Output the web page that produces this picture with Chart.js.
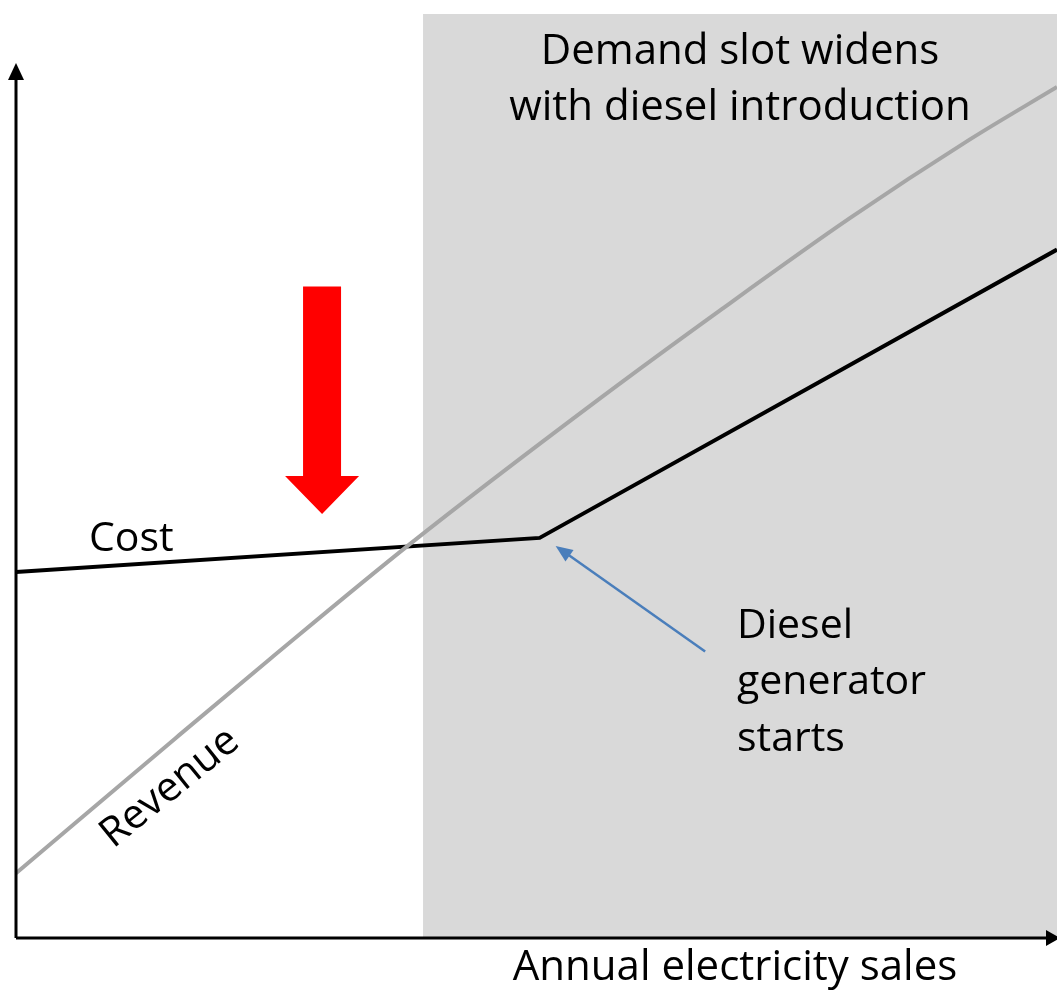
<!DOCTYPE html>
<html>
<head>
<meta charset="utf-8">
<script src="https://cdn.jsdelivr.net/npm/chart.js@4.4.1/dist/chart.umd.min.js"></script>
<style>
  html, body { margin: 0; padding: 0; background: #fff; }
  #wrap { width: 1057px; height: 994px; }
</style>
</head>
<body>
<div id="wrap"><canvas id="chart" width="1057" height="994"></canvas></div>
<script>
// data, in abstract units (x: sales 0..100, y: money 0..100)
const costX = [0, 50.3, 100];
const costY = [39.6, 43.3, 74.5];

const revenueX = [0, 15.3, 24.4, 37.8, 56.1, 67.6, 80.1, 91.6, 100];
const revenueY = [7.0, 21.6, 30.2, 42.6, 58.4, 67.9, 77.9, 86.4, 92.1];

// shaded demand slot, and where the diesel starts
const slotRange = [39.1, 100];
const dieselStart = [costX[1], costY[1]];

const FONT = '"Open Sans", "Noto Sans", sans-serif';

const toPoints = (xs, ys) => xs.map((x, i) => ({ x: x, y: ys[i] }));

const drawStuff = {
  id: 'drawStuff',
  beforeDatasetsDraw(chart) {
    const { ctx, scales: { x, y } } = chart;
    ctx.save();
    // grey demand slot
    ctx.fillStyle = '#d9d9d9';
    const x0 = x.getPixelForValue(slotRange[0]);
    const x1 = x.getPixelForValue(slotRange[1]);
    ctx.fillRect(x0, y.getPixelForValue(100), x1 - x0 + 2, y.getPixelForValue(0) - y.getPixelForValue(100));
    ctx.restore();
  },
  afterDatasetsDraw(chart) {
    const { ctx, scales: { x, y } } = chart;
    const ox = x.getPixelForValue(0);
    const oy = y.getPixelForValue(0);
    ctx.save();

    // axes with arrow heads
    ctx.strokeStyle = '#000';
    ctx.fillStyle = '#000';
    ctx.lineWidth = 3;
    ctx.beginPath();
    ctx.moveTo(ox, oy);
    ctx.lineTo(ox, 78);
    ctx.moveTo(ox, oy);
    ctx.lineTo(1046, oy);
    ctx.stroke();
    ctx.beginPath();
    ctx.moveTo(ox, 63); ctx.lineTo(ox - 8, 80); ctx.lineTo(ox + 8, 80); ctx.closePath();
    ctx.fill();
    ctx.beginPath();
    ctx.moveTo(1060, oy); ctx.lineTo(1046, oy - 8); ctx.lineTo(1046, oy + 8); ctx.closePath();
    ctx.fill();

    // red down arrow
    const rx = x.getPixelForValue(29.4);
    const rTop = y.getPixelForValue(70.5);
    const rTip = y.getPixelForValue(45.9);
    ctx.fillStyle = '#ff0000';
    ctx.beginPath();
    ctx.moveTo(rx - 19, rTop);
    ctx.lineTo(rx + 19, rTop);
    ctx.lineTo(rx + 19, rTip - 38);
    ctx.lineTo(rx + 37, rTip - 38);
    ctx.lineTo(rx, rTip);
    ctx.lineTo(rx - 37, rTip - 38);
    ctx.lineTo(rx - 19, rTip - 38);
    ctx.closePath();
    ctx.fill();

    // blue pointer to the kink
    const bx0 = x.getPixelForValue(66.2), by0 = y.getPixelForValue(31.0);
    const bx1 = x.getPixelForValue(dieselStart[0]) + 16, by1 = y.getPixelForValue(dieselStart[1]) + 8;
    const ang = Math.atan2(by1 - by0, bx1 - bx0);
    ctx.strokeStyle = '#4a7ebb';
    ctx.fillStyle = '#4a7ebb';
    ctx.lineWidth = 2.5;
    ctx.beginPath();
    ctx.moveTo(bx0, by0);
    ctx.lineTo(bx1 - 12 * Math.cos(ang), by1 - 12 * Math.sin(ang));
    ctx.stroke();
    ctx.beginPath();
    ctx.moveTo(bx1, by1);
    ctx.lineTo(bx1 - 17 * Math.cos(ang) + 7 * Math.sin(ang), by1 - 17 * Math.sin(ang) - 7 * Math.cos(ang));
    ctx.lineTo(bx1 - 17 * Math.cos(ang) - 7 * Math.sin(ang), by1 - 17 * Math.sin(ang) + 7 * Math.cos(ang));
    ctx.closePath();
    ctx.fill();

    // texts
    ctx.fillStyle = '#000';
    ctx.font = '42px ' + FONT;
    ctx.textBaseline = 'middle';
    ctx.textAlign = 'center';
    ctx.fillText('Demand slot widens', 740, 52);
    ctx.fillText('with diesel introduction', 740, 108);
    ctx.fillText('Annual electricity sales', 735, 968);

    ctx.textAlign = 'left';
    ctx.font = '41px ' + FONT;
    ctx.fillText('Cost', 89, 539);
    ctx.fillText('Diesel', 737, 626);
    ctx.fillText('generator', 737, 682);
    ctx.fillText('starts', 737, 739);

    ctx.save();
    ctx.translate(170, 788);
    ctx.rotate(-39 * Math.PI / 180);
    ctx.textAlign = 'center';
    ctx.fillText('Revenue', 0, 0);
    ctx.restore();

    ctx.restore();
  }
};

new Chart(document.getElementById('chart'), {
  type: 'scatter',
  data: {
    datasets: [
      {
        label: 'Revenue',
        data: toPoints(revenueX, revenueY),
        showLine: true,
        borderColor: '#a6a6a6',
        borderWidth: 4,
        pointRadius: 0,
        cubicInterpolationMode: 'monotone',
        clip: false
      },
      {
        label: 'Cost',
        data: toPoints(costX, costY),
        showLine: true,
        borderColor: '#000',
        borderWidth: 4,
        pointRadius: 0,
        tension: 0,
        clip: false
      }
    ]
  },
  options: {
    responsive: false,
    animation: false,
    layout: { padding: { left: 16, right: 0, top: 14, bottom: 56 } },
    plugins: { legend: { display: false }, tooltip: { enabled: false } },
    scales: {
      x: { type: 'linear', min: 0, max: 100, display: false },
      y: { type: 'linear', min: 0, max: 100, display: false }
    }
  },
  plugins: [drawStuff]
});
</script>
</body>
</html>
